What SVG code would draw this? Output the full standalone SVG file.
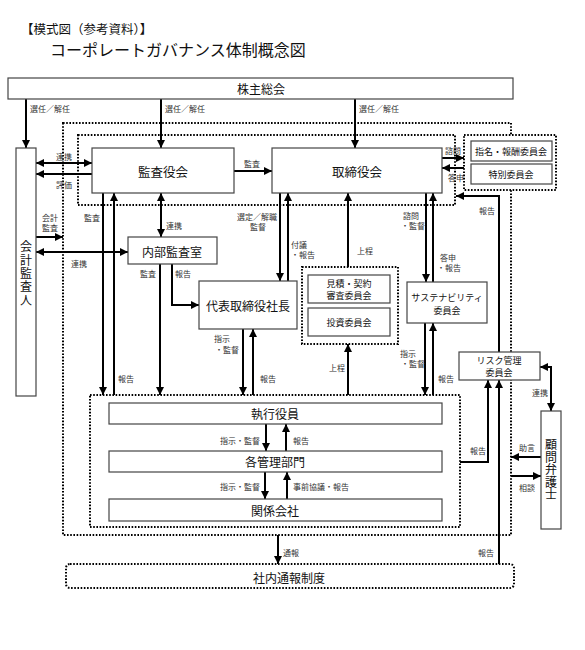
<svg xmlns="http://www.w3.org/2000/svg" width="585" height="650" viewBox="0 0 585 650">
<defs>
<marker id="ah" viewBox="0 0 8 8" refX="8" refY="4" markerWidth="8" markerHeight="8" markerUnits="userSpaceOnUse" orient="auto-start-reverse"><path d="M0,0 L8,4 L0,8 z" fill="#000"/></marker>
<style>
text{font-family:"Noto Sans CJK JP","Noto Sans CJK SC",sans-serif;dominant-baseline:central;fill:#111}
.t{font-size:12px;text-anchor:middle}
.v{font-size:12px;text-anchor:middle;writing-mode:tb}
.m{font-size:9px;text-anchor:middle}
.l{font-size:8px;fill:#333}
.box{fill:#fff;stroke:#444;stroke-width:1.2}
.dot{fill:none;stroke:#000;stroke-width:2;stroke-dasharray:1.6 1.6}
.dotw{fill:#fff;stroke:#000;stroke-width:2;stroke-dasharray:1.6 1.6}
.a{fill:none;stroke:#000;stroke-width:2;marker-end:url(#ah)}
.d{fill:none;stroke:#000;stroke-width:2;marker-start:url(#ah);marker-end:url(#ah)}
</style>
</defs>
<rect width="585" height="650" fill="#fff"/>
<g id="title">
<text x="21" y="28" style="font-size:12.5px">【模式図（参考資料）】</text>
<text x="50" y="49" style="font-size:16px">コーポレートガバナンス体制概念図</text>
</g>
<g id="frames">
<rect class="dot" x="63" y="123" width="448" height="412"/>
<rect class="dot" x="78" y="135" width="377" height="70"/>
<rect class="dot" x="90" y="395" width="370" height="132"/>
<rect class="dotw" x="302" y="267" width="96" height="77"/>
<rect class="dotw" x="464" y="135" width="92" height="55"/>
</g>
<g id="connectors">
<path class="a" d="M26,99 V148"/>
<path class="a" d="M161,99 V148"/>
<path class="a" d="M355,99 V148"/>
<path class="d" d="M36,163 H92"/>
<path class="a" d="M92,174 H36"/>
<path class="a" d="M36,237 H63"/>
<path class="d" d="M36,252 H128"/>
<path class="a" d="M234,171 H272"/>
<path class="d" d="M161,193 V237"/>
<path class="a" d="M103,193 V395"/>
<path class="a" d="M114,395 V193"/>
<path class="a" d="M160,264 V395"/>
<path class="a" d="M172,264 V305 H199"/>
<path class="a" d="M280,193 V281"/>
<path class="a" d="M288,281 V193"/>
<path class="a" d="M348,267 V193"/>
<path class="a" d="M348,395 V344"/>
<path class="a" d="M243,329 V395"/>
<path class="a" d="M253,395 V329"/>
<path class="a" d="M426,193 V282"/>
<path class="a" d="M433,282 V193"/>
<path class="a" d="M425,323 V395"/>
<path class="a" d="M433,395 V323"/>
<path class="a" d="M442,158 H464"/>
<path class="a" d="M464,168 H442"/>
<path class="a" d="M499,352 V196 H456"/>
<path class="a" d="M460,462 H488 V380"/>
<path class="a" d="M499,564 V380"/>
<path class="d" d="M540,367 H551 V411"/>
<path class="a" d="M541,457 H511"/>
<path class="a" d="M511,476 H541"/>
<path class="a" d="M266,424 V451"/>
<path class="a" d="M286,451 V424"/>
<path class="a" d="M265,472 V499"/>
<path class="a" d="M287,499 V472"/>
<path class="a" d="M278,535 V564"/>
</g>
<g id="labels">
<text class="l" x="30" y="108">選任／解任</text>
<text class="l" x="165" y="108">選任／解任</text>
<text class="l" x="359" y="108">選任／解任</text>
<text class="l" x="56" y="156">連携</text>
<text class="l" x="56" y="184">評価</text>
<text class="l" x="42" y="217">会計</text>
<text class="l" x="42" y="227">監査</text>
<text class="l" x="84" y="217">監査</text>
<text class="l" x="71" y="263">連携</text>
<text class="l" x="166" y="225">連携</text>
<text class="l" x="140" y="273">監査</text>
<text class="l" x="175" y="273">報告</text>
<text class="l" x="244" y="163">監査</text>
<text class="l" x="237" y="216">選定／解職</text>
<text class="l" x="250" y="226">監督</text>
<text class="l" x="291" y="244">付議</text>
<text class="l" x="291" y="254">・報告</text>
<text class="l" x="357" y="250">上程</text>
<text class="l" x="403" y="215">諮問</text>
<text class="l" x="401" y="225">・監督</text>
<text class="l" x="440" y="257">答申</text>
<text class="l" x="437" y="267">・報告</text>
<text class="l" x="445" y="150">諮問</text>
<text class="l" x="448" y="177">答申</text>
<text class="l" x="479" y="210">報告</text>
<text class="l" x="214" y="338">指示</text>
<text class="l" x="215" y="349">・監督</text>
<text class="l" x="118" y="378">報告</text>
<text class="l" x="260" y="378">報告</text>
<text class="l" x="329" y="367">上程</text>
<text class="l" x="400" y="353">指示</text>
<text class="l" x="401" y="363">・監督</text>
<text class="l" x="438" y="378">報告</text>
<text class="l" x="532" y="392">連携</text>
<text class="l" x="470" y="450">報告</text>
<text class="l" x="519" y="447">助言</text>
<text class="l" x="519" y="487">相談</text>
<text class="l" x="220" y="440">指示・監督</text>
<text class="l" x="293" y="440">報告</text>
<text class="l" x="220" y="486">指示・監督</text>
<text class="l" x="293" y="486">事前協議・報告</text>
<text class="l" x="283" y="552">通報</text>
<text class="l" x="478" y="552">報告</text>
</g>
<g id="shareholders"><rect class="box" x="8" y="78" width="505" height="21"/><text class="t" x="261" y="88.5">株主総会</text></g>
<g id="auditor"><rect class="box" x="16" y="148" width="20" height="248"/>
<text class="v" x="26" y="274" style="letter-spacing:1.3px">会計監査人</text></g>
<g id="kansayaku"><rect class="box" x="92" y="148" width="142" height="45"/><text class="t" x="163" y="171" style="font-size:12.5px">監査役会</text></g>
<g id="torishimariyaku"><rect class="box" x="272" y="148" width="170" height="45"/><text class="t" x="357" y="171" style="font-size:12.5px">取締役会</text></g>
<g id="naibu"><rect class="box" x="128" y="237" width="89" height="27"/><text class="t" x="172" y="251">内部監査室</text></g>
<g id="president"><rect class="box" x="199" y="281" width="98" height="48"/><text class="t" x="248" y="305">代表取締役社長</text></g>
<g id="mitsumori"><rect class="box" x="308" y="275" width="82" height="28"/><text class="m" x="349" y="283">見積・契約</text><text class="m" x="349" y="295.5">審査委員会</text></g>
<g id="toshi"><rect class="box" x="308" y="308" width="82" height="28"/><text class="m" x="349" y="322">投資委員会</text></g>
<g id="sustainability"><rect class="box" x="407" y="282" width="80" height="41"/><text class="m" x="447" y="297">サステナビリティ</text><text class="m" x="447" y="310">委員会</text></g>
<g id="shimei"><rect class="box" x="471" y="141" width="81" height="20"/><text class="m" x="511" y="151">指名・報酬委員会</text></g>
<g id="tokubetsu"><rect class="box" x="471" y="164" width="81" height="20"/><text class="m" x="511" y="174">特別委員会</text></g>
<g id="risk"><rect class="box" x="459" y="352" width="81" height="28"/><text class="m" x="499" y="360">リスク管理</text><text class="m" x="499" y="372.5">委員会</text></g>
<g id="lawyer"><rect class="box" x="541" y="411" width="20" height="118"/>
<text class="v" x="551" y="470" style="letter-spacing:0.6px">顧問弁護士</text></g>
<g id="shikkou"><rect class="box" x="109" y="403" width="333" height="21"/><text class="t" x="275" y="413.5">執行役員</text></g>
<g id="kanri"><rect class="box" x="109" y="451" width="333" height="21"/><text class="t" x="275" y="461.5">各管理部門</text></g>
<g id="kankei"><rect class="box" x="109" y="499" width="333" height="22"/><text class="t" x="275" y="510">関係会社</text></g>
<g id="tsuho"><rect class="dot" x="66" y="564" width="448" height="24" rx="4"/><text class="t" x="289" y="577">社内通報制度</text></g>
</svg>
